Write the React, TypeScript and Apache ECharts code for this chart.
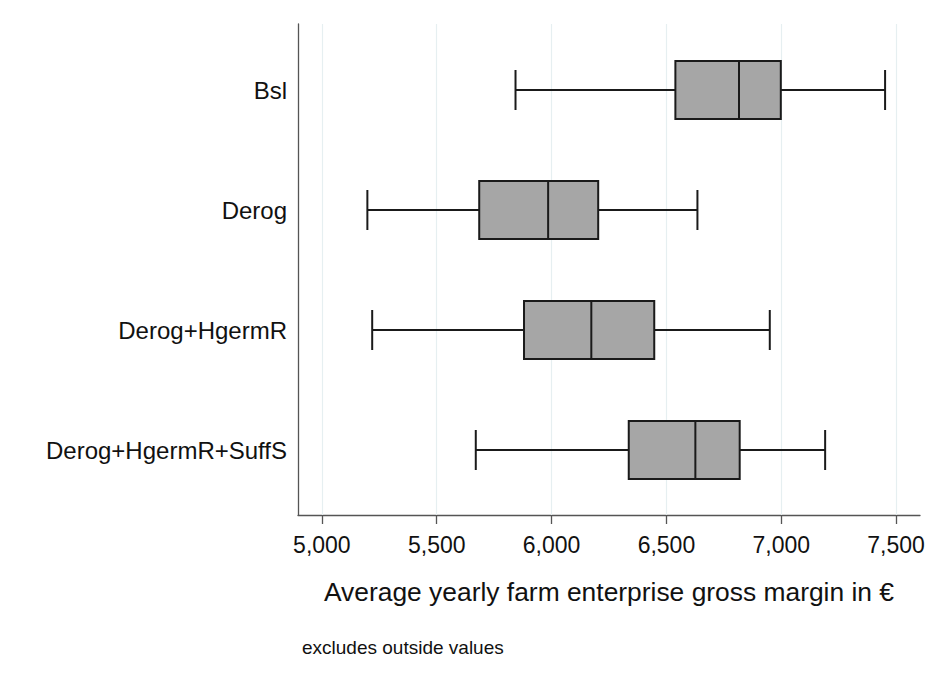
import React, { useEffect, useRef } from "react";
import * as echarts from "echarts";

const categories = ["Bsl", "Derog", "Derog+HgermR", "Derog+HgermR+SuffS"];
const lowerWhisker = [5843, 5198, 5219, 5670];
const q1 = [6539, 5685, 5880, 6336];
const median = [6816, 5985, 6173, 6626];
const q3 = [6998, 6203, 6447, 6819];
const upperWhisker = [7452, 6635, 6950, 7191];
const xTicks = [5000, 5500, 6000, 6500, 7000, 7500];

const X_MIN = 4896;
const X_MAX = 7604;
const FONT = "'Liberation Sans', Arial, sans-serif";

export default function App() {
  const ref = useRef<HTMLDivElement>(null);
  useEffect(() => {
    if (!ref.current) return;
    const chart = echarts.init(ref.current, undefined, { renderer: "svg" });
    const data = categories.map((_, i) => [i, lowerWhisker[i], q1[i], median[i], q3[i], upperWhisker[i]]);
    const stroke = "#1a1a1a";
    const option: any = {
      animation: false,
      backgroundColor: "#ffffff",
      textStyle: { fontFamily: FONT },
      grid: [
        { left: 298, right: 22, top: 30, bottom: 165 },
        { left: 298, right: 22, top: 24, bottom: 160 },
      ],
      xAxis: [
        { type: "value", gridIndex: 0, min: X_MIN, max: X_MAX, show: false },
        {
          type: "value",
          gridIndex: 1,
          min: X_MIN,
          max: X_MAX,
          axisLine: { show: true, lineStyle: { color: "#555555", width: 1.3 } },
          axisTick: { show: true, length: 9, lineStyle: { color: "#555555", width: 1.3 }, customValues: xTicks },
          axisLabel: {
            customValues: xTicks,
            margin: 18,
            fontSize: 23,
            color: "#111111",
            fontFamily: FONT,
            formatter: (v: number) => v.toLocaleString("en-US"),
          },
          splitLine: { show: false },
          name: "Average yearly farm enterprise gross margin in €",
          nameLocation: "middle",
          nameGap: 64,
          nameTextStyle: { fontSize: 26.4, color: "#111111", fontFamily: FONT },
        },
      ],
      yAxis: [
        {
          type: "category",
          gridIndex: 0,
          data: categories,
          inverse: true,
          axisLine: { show: false },
          axisTick: { show: false },
          axisLabel: { margin: 11, fontSize: 24, color: "#111111", fontFamily: FONT },
          splitLine: { show: false },
        },
        {
          type: "value",
          gridIndex: 1,
          min: 0,
          max: 1,
          axisLine: { show: true, lineStyle: { color: "#555555", width: 1.3 } },
          axisTick: { show: false },
          axisLabel: { show: false },
          splitLine: { show: false },
        },
      ],
      series: [
        {
          type: "line",
          xAxisIndex: 1,
          yAxisIndex: 1,
          z: 1,
          data: [],
          markLine: {
            silent: true,
            symbol: "none",
            z: 1,
            label: { show: false },
            lineStyle: { color: "#e6eff1", width: 1.2, type: "solid" },
            data: xTicks.map((v) => ({ xAxis: v })),
          },
        },
        {
          type: "custom",
          xAxisIndex: 0,
          yAxisIndex: 0,
          z: 10,
          data,
          encode: { x: [1, 2, 3, 4, 5], y: 0 },
          renderItem: (params: any, api: any) => {
            const cat = api.value(0);
            const pLow = api.coord([api.value(1), cat]);
            const pQ1 = api.coord([api.value(2), cat]);
            const pMed = api.coord([api.value(3), cat]);
            const pQ3 = api.coord([api.value(4), cat]);
            const pHigh = api.coord([api.value(5), cat]);
            const band = api.size([0, 1])[1];
            const bh = (band * 58) / 120;
            const ch = (band * 40) / 120;
            const y = pMed[1];
            const ls = { stroke, lineWidth: 2 };
            return {
              type: "group",
              children: [
                { type: "line", shape: { x1: pLow[0], y1: y, x2: pQ1[0], y2: y }, style: ls },
                { type: "line", shape: { x1: pQ3[0], y1: y, x2: pHigh[0], y2: y }, style: ls },
                { type: "line", shape: { x1: pLow[0], y1: y - ch / 2, x2: pLow[0], y2: y + ch / 2 }, style: ls },
                { type: "line", shape: { x1: pHigh[0], y1: y - ch / 2, x2: pHigh[0], y2: y + ch / 2 }, style: ls },
                {
                  type: "rect",
                  shape: { x: pQ1[0], y: y - bh / 2, width: pQ3[0] - pQ1[0], height: bh },
                  style: { fill: "#a6a6a6", stroke, lineWidth: 2 },
                },
                { type: "line", shape: { x1: pMed[0], y1: y - bh / 2, x2: pMed[0], y2: y + bh / 2 }, style: ls },
              ],
            };
          },
        },
      ],
      graphic: [
        {
          type: "text",
          left: 302,
          top: 638,
          style: { text: "excludes outside values", fontSize: 19, fill: "#111111", fontFamily: FONT },
        },
      ],
    };
    chart.setOption(option);
    return () => chart.dispose();
  }, []);
  return <div ref={ref} style={{ position: "fixed", left: 0, top: 0, width: 942, height: 675 }} />;
}
